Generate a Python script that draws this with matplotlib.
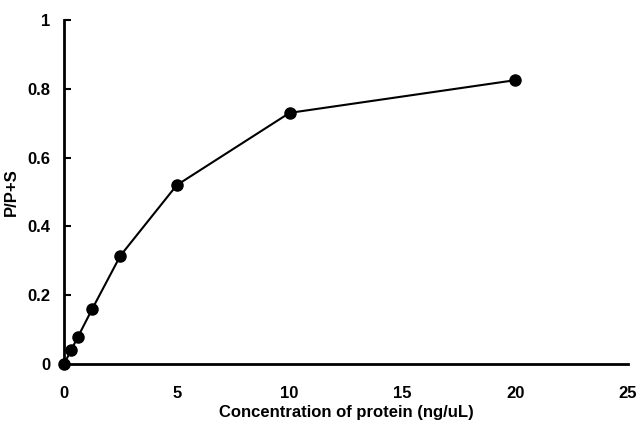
import matplotlib
matplotlib.use("Agg")
import matplotlib.pyplot as plt

conc = [0, 0.3125, 0.625, 1.25, 2.5, 5, 10, 20]
ratio = [0.0, 0.04, 0.08, 0.16, 0.315, 0.52, 0.73, 0.825]

plt.rcParams['font.family'] = ['Liberation Sans', 'DejaVu Sans']

fig = plt.figure(figsize=(6.4, 4.44), dpi=100)
ax = fig.add_axes([0.1, 0.18, 0.881, 0.775])

ax.plot(conc, ratio, color='black', marker='o', markersize=8, linewidth=1.5, clip_on=False, zorder=3)

ax.set_xlim(0, 25)
ax.set_ylim(0, 1)
ax.set_xticks([0, 5, 10, 15, 20, 25])
ax.set_yticks([0, 0.2, 0.4, 0.6, 0.8, 1])
ax.set_yticklabels(['0', '0.2', '0.4', '0.6', '0.8', '1'])

for s in ['top', 'right']:
    ax.spines[s].set_visible(False)
for s in ['left', 'bottom']:
    ax.spines[s].set_linewidth(2)

ax.tick_params(axis='y', direction='in', length=5, width=1.5, labelsize=12, pad=10)
ax.tick_params(axis='x', direction='in', length=0, labelsize=12, pad=16)
for lab in ax.get_xticklabels() + ax.get_yticklabels():
    lab.set_fontweight('bold')

ax.set_xlabel("Concentration of protein (ng/uL)", fontsize=12, fontweight='bold', labelpad=3)
ax.set_ylabel("P/P+S", fontsize=12, fontweight='bold', labelpad=6)

fig.savefig("out.png", dpi=100)
